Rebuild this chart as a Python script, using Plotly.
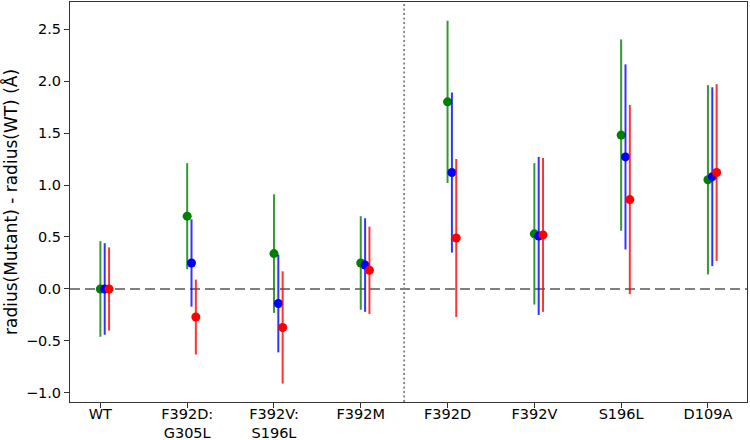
import plotly.graph_objects as go

categories = ["WT", "F392D:<br>G305L", "F392V:<br>S196L", "F392M", "F392D", "F392V", "S196L", "D109A"]

green_vals = [0.00, 0.70, 0.34, 0.25, 1.80, 0.53, 1.48, 1.05]
green_err = [0.46, 0.51, 0.57, 0.45, 0.78, 0.68, 0.92, 0.91]
blue_vals = [0.00, 0.25, -0.14, 0.23, 1.12, 0.51, 1.27, 1.08]
blue_err = [0.44, 0.42, 0.47, 0.45, 0.77, 0.76, 0.89, 0.86]
red_vals = [0.00, -0.27, -0.37, 0.18, 0.49, 0.52, 0.86, 1.12]
red_err = [0.40, 0.36, 0.54, 0.42, 0.76, 0.74, 0.91, 0.85]

offsets = [0.0, 0.05, 0.10]
series = [
    (green_vals, green_err, "#008000", "rgba(0,128,0,0.8)"),
    (blue_vals, blue_err, "#0000ff", "rgba(0,0,255,0.8)"),
    (red_vals, red_err, "#ff0000", "rgba(255,0,0,0.8)"),
]

fig = go.Figure()
for (vals, errs, col, ecol), off in zip(series, offsets):
    fig.add_trace(go.Scatter(
        x=[i + off for i in range(len(categories))],
        y=vals,
        mode="markers",
        marker=dict(color=col, size=9, line=dict(width=0)),
        error_y=dict(type="data", array=errs, visible=True, color=ecol, thickness=2, width=0),
        showlegend=False,
    ))

fig.add_shape(type="line", xref="paper", yref="y", x0=0, x1=1, y0=0, y1=0,
              line=dict(color="gray", width=2, dash="10px,5px"), layer="below")
fig.add_shape(type="line", xref="x", yref="paper", x0=3.5, x1=3.5, y0=0, y1=1,
              line=dict(color="gray", width=1.8, dash="2px,2.5px"), layer="below")

fig.update_layout(
    width=750, height=440,
    margin=dict(l=70, r=3, t=2, b=38),
    paper_bgcolor="white", plot_bgcolor="white",
    font=dict(family="DejaVu Sans", size=14.5, color="black"),
    xaxis=dict(
        range=[-0.35, 7.45], tickvals=list(range(len(categories))), ticktext=categories,
        showgrid=False, zeroline=False, showline=True, mirror=True, linecolor="#333", linewidth=1,
        ticks="outside", ticklen=5, tickcolor="#333", automargin=False,
        ticklabelstandoff=-6,
    ),
    yaxis=dict(
        range=[-1.087, 2.76], tickvals=[-1.0, -0.5, 0.0, 0.5, 1.0, 1.5, 2.0, 2.5],
        ticktext=["\u22121.0", "\u22120.5", "0.0", "0.5", "1.0", "1.5", "2.0", "2.5"],
        showgrid=False, zeroline=False, showline=True, mirror=True, linecolor="#333", linewidth=1,
        ticks="outside", ticklen=5, tickcolor="#333", automargin=False,
        title=dict(text="radius(Mutant) - radius(WT) (Å)", standoff=6),
    ),
)

fig.write_html("out.html")
